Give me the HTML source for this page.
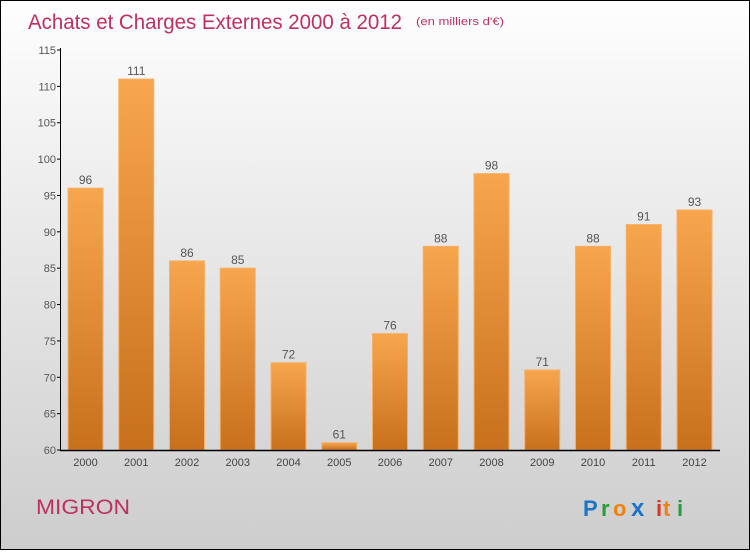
<!DOCTYPE html>
<html><head><meta charset="utf-8"><style>
body{margin:0;width:750px;height:550px;overflow:hidden;font-family:"Liberation Sans",sans-serif}
</style></head><body>
<svg width="750" height="550" xmlns="http://www.w3.org/2000/svg">
<defs>
<linearGradient id="bg" x1="0" y1="0" x2="0" y2="1"><stop offset="0" stop-color="#fefefe"/><stop offset="1" stop-color="#cdcdcd"/></linearGradient>
<linearGradient id="bar" x1="0" y1="0" x2="0" y2="1"><stop offset="0" stop-color="#f7a64e"/><stop offset="1" stop-color="#c8701c"/></linearGradient>
</defs>
<rect x="0.5" y="0.5" width="749" height="549" fill="url(#bg)" stroke="#000"/>
<text x="28" y="29" font-size="21" textLength="374" lengthAdjust="spacingAndGlyphs" fill="#c0305f">Achats et Charges Externes 2000 à 2012</text>
<text x="416" y="25" font-size="11" textLength="88" lengthAdjust="spacingAndGlyphs" fill="#c0305f">(en milliers d'€)</text>
<text x="36" y="514" font-size="21" textLength="94" lengthAdjust="spacingAndGlyphs" fill="#c0305f">MIGRON</text>
<g font-size="22" font-weight="bold">
<text x="583" y="516" fill="#1a74c8">P</text><text x="601" y="516" fill="#2a9a3a">r</text><text x="613" y="516" fill="#f08010">o</text><text x="631" y="516" fill="#1a74c8" font-size="24">x</text><text x="656" y="516" fill="#e03020">i</text><text x="663" y="516" fill="#f08010">t</text><text x="677" y="516" fill="#2a9a3a">i</text>
</g>
<g id="plot"></g>
</svg>
<script>
const years=["2000","2001","2002","2003","2004","2005","2006","2007","2008","2009","2010","2011","2012"];
const values=[96,111,86,85,72,61,76,88,98,71,88,91,93];
const yTicks=[60,65,70,75,80,85,90,95,100,105,110,115];
const NS="http://www.w3.org/2000/svg";
const g=document.getElementById('plot');
const y=v=>450-(v-60)*400/55;
const xc=i=>85.5+i*50.75;
function mk(t,a){const e=document.createElementNS(NS,t);for(const k in a)e.setAttribute(k,a[k]);g.appendChild(e);return e;}
values.forEach((v,i)=>{
 const r=mk('rect',{x:xc(i)-17.5,y:y(v),width:35,height:450-y(v),fill:'url(#bar)',stroke:'#f7b068','stroke-width':1});
 
 
 const t=mk('text',{x:xc(i),y:y(v)-4,'text-anchor':'middle','font-size':12,fill:'#555'});t.textContent=v;
 
 
 const xl=mk('text',{x:xc(i),y:466,'text-anchor':'middle','font-size':11,fill:'#444'});xl.textContent=years[i];
 
 
});
yTicks.forEach(v=>{
 mk('line',{x1:57,x2:61,y1:y(v),y2:y(v),stroke:'#000'});
 const t=mk('text',{x:56,y:y(v)+4,'text-anchor':'end','font-size':11,fill:'#555'});t.textContent=v;
 
 
});
const ya=mk('line',{x1:60.5,x2:60.5,y1:48,y2:450,stroke:'#000'});


const xa=mk('line',{x1:60,x2:720,y1:450.5,y2:450.5,stroke:'#000','stroke-width':1.5});


</script>
</body></html>
